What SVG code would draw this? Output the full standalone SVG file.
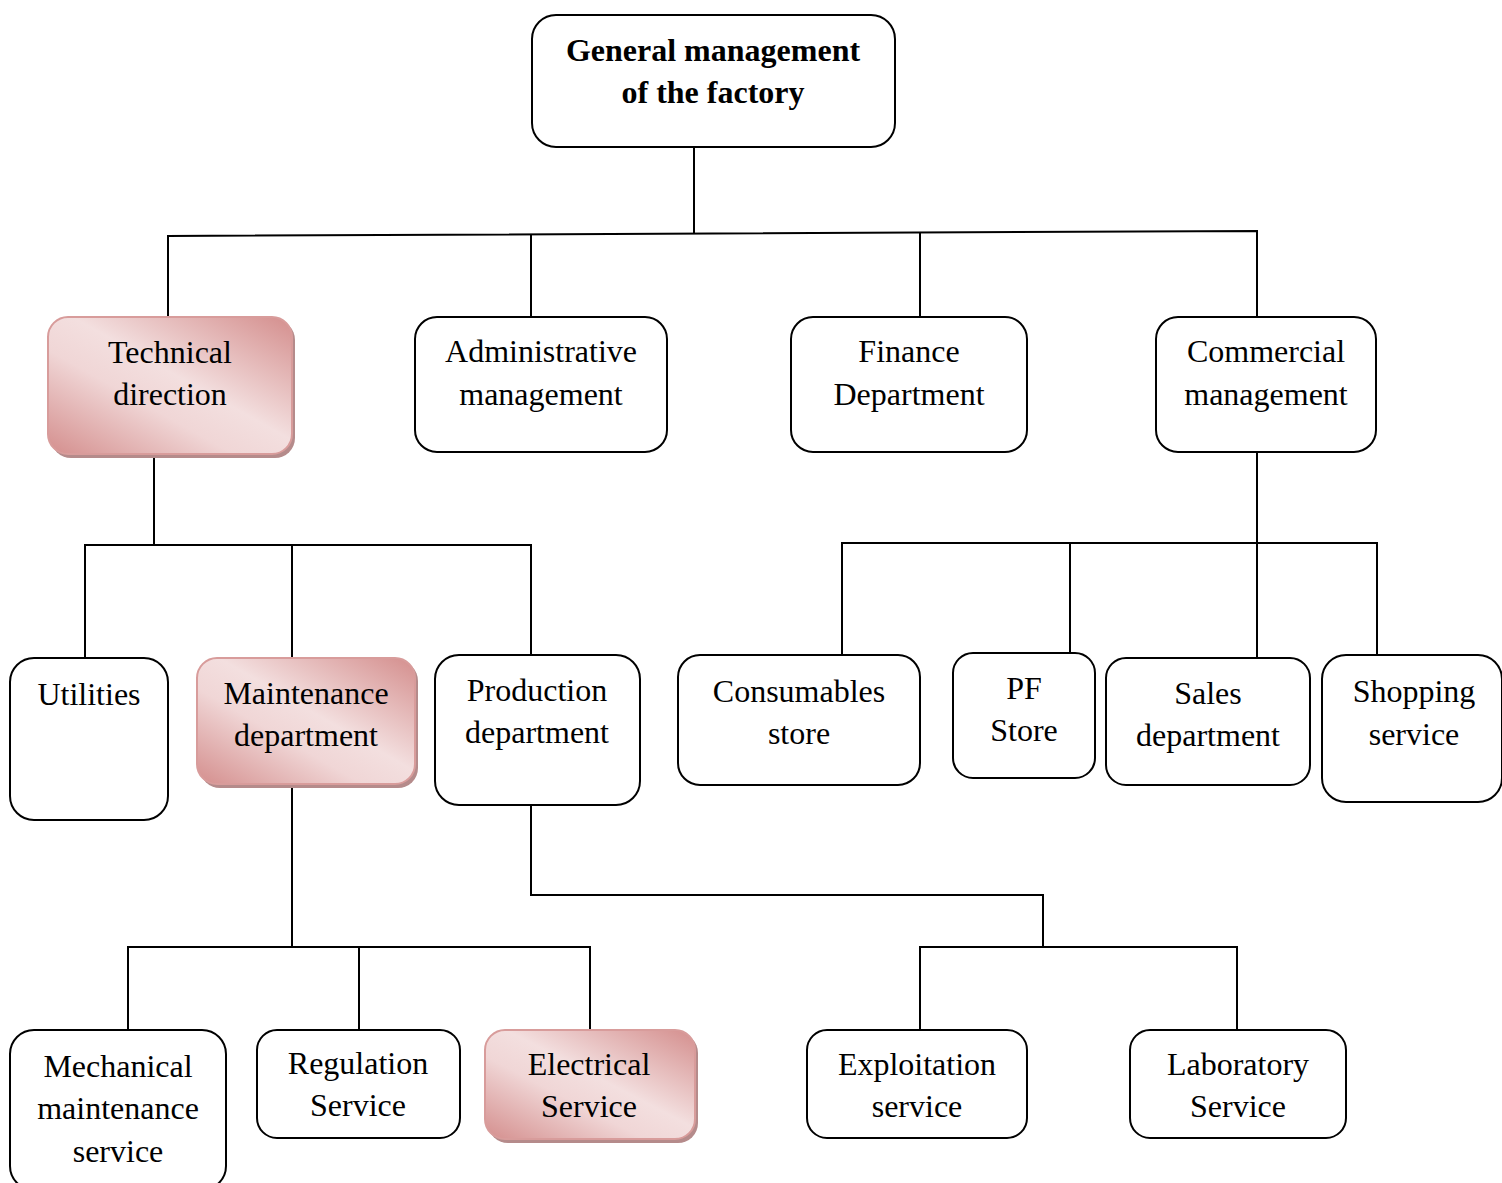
<svg xmlns="http://www.w3.org/2000/svg" width="1502" height="1183" viewBox="0 0 1502 1183">
<defs>
<linearGradient id="pink" x1="1" y1="0" x2="0" y2="1">
<stop offset="0" stop-color="#d48e8d"/>
<stop offset="0.45" stop-color="#f3dfdf"/>
<stop offset="0.62" stop-color="#f0d6d6"/>
<stop offset="1" stop-color="#d48e8d"/>
</linearGradient>
<style>
.box{fill:#fff;stroke:#000;stroke-width:2}
.pbox{fill:url(#pink);stroke:#d89c9b;stroke-width:2}
.shadow{fill:#b58b8b}
.t{font-family:"Liberation Serif","Times New Roman",serif;font-size:32px;fill:#000;text-anchor:middle}
.b{font-weight:bold}
.c{fill:none;stroke:#000;stroke-width:2}
</style>
</defs>
<rect width="1502" height="1183" fill="#fff"/>
<g id="connectors">
<path class="c" d="M694 147V233"/>
<path class="c" d="M168 318V236L1257 231V318"/>
<path class="c" d="M531 235V318"/>
<path class="c" d="M920 233V318"/>
<path class="c" d="M154 455V545"/>
<path class="c" d="M85 658V545H531V655"/>
<path class="c" d="M292 545V658"/>
<path class="c" d="M1257 452V543"/>
<path class="c" d="M842 655V543H1377V655"/>
<path class="c" d="M1070 543V655"/>
<path class="c" d="M1257 543V658"/>
<path class="c" d="M292 785V947"/>
<path class="c" d="M128 1030V947H590V1030"/>
<path class="c" d="M359 947V1030"/>
<path class="c" d="M531 805V895H1043V947"/>
<path class="c" d="M920 1030V947H1237V1030"/>
</g>
<g id="general">
<rect class="box" x="532" y="15" width="363" height="132" rx="24"/>
<text class="t b" x="713" y="61">General management</text>
<text class="t b" x="713" y="103">of the factory</text>
</g>
<g id="technical">
<rect class="shadow" x="51" y="320" width="244" height="138" rx="20"/>
<rect class="pbox" x="48" y="317" width="244" height="137" rx="20"/>
<text class="t" x="170" y="363">Technical</text>
<text class="t" x="170" y="405">direction</text>
</g>
<g id="administrative">
<rect class="box" x="415" y="317" width="252" height="135" rx="22"/>
<text class="t" x="541" y="362">Administrative</text>
<text class="t" x="541" y="405">management</text>
</g>
<g id="finance">
<rect class="box" x="791" y="317" width="236" height="135" rx="22"/>
<text class="t" x="909" y="362">Finance</text>
<text class="t" x="909" y="405">Department</text>
</g>
<g id="commercial">
<rect class="box" x="1156" y="317" width="220" height="135" rx="22"/>
<text class="t" x="1266" y="362">Commercial</text>
<text class="t" x="1266" y="405">management</text>
</g>
<g id="utilities">
<rect class="box" x="10" y="658" width="158" height="162" rx="24"/>
<text class="t" x="89" y="705">Utilities</text>
</g>
<g id="maintenance">
<rect class="shadow" x="200" y="661" width="218" height="127" rx="20"/>
<rect class="pbox" x="197" y="658" width="218" height="126" rx="20"/>
<text class="t" x="306" y="704">Maintenance</text>
<text class="t" x="306" y="746">department</text>
</g>
<g id="production">
<rect class="box" x="435" y="655" width="205" height="150" rx="24"/>
<text class="t" x="537" y="701">Production</text>
<text class="t" x="537" y="743">department</text>
</g>
<g id="consumables">
<rect class="box" x="678" y="655" width="242" height="130" rx="22"/>
<text class="t" x="799" y="702">Consumables</text>
<text class="t" x="799" y="744">store</text>
</g>
<g id="pfstore">
<rect class="box" x="953" y="653" width="142" height="125" rx="20"/>
<text class="t" x="1024" y="699">PF</text>
<text class="t" x="1024" y="741">Store</text>
</g>
<g id="sales">
<rect class="box" x="1106" y="658" width="204" height="127" rx="20"/>
<text class="t" x="1208" y="704">Sales</text>
<text class="t" x="1208" y="746">department</text>
</g>
<g id="shopping">
<rect class="box" x="1322" y="655" width="180" height="147" rx="24"/>
<text class="t" x="1414" y="702">Shopping</text>
<text class="t" x="1414" y="745">service</text>
</g>
<g id="mechanical">
<rect class="box" x="10" y="1030" width="216" height="160" rx="24"/>
<text class="t" x="118" y="1077">Mechanical</text>
<text class="t" x="118" y="1119">maintenance</text>
<text class="t" x="118" y="1162">service</text>
</g>
<g id="regulation">
<rect class="box" x="257" y="1030" width="203" height="108" rx="20"/>
<text class="t" x="358" y="1074">Regulation</text>
<text class="t" x="358" y="1116">Service</text>
</g>
<g id="electrical">
<rect class="shadow" x="488" y="1033" width="210" height="110" rx="20"/>
<rect class="pbox" x="485" y="1030" width="210" height="109" rx="20"/>
<text class="t" x="589" y="1075">Electrical</text>
<text class="t" x="589" y="1117">Service</text>
</g>
<g id="exploitation">
<rect class="box" x="807" y="1030" width="220" height="108" rx="20"/>
<text class="t" x="917" y="1075">Exploitation</text>
<text class="t" x="917" y="1117">service</text>
</g>
<g id="laboratory">
<rect class="box" x="1130" y="1030" width="216" height="108" rx="20"/>
<text class="t" x="1238" y="1075">Laboratory</text>
<text class="t" x="1238" y="1117">Service</text>
</g>
</svg>
